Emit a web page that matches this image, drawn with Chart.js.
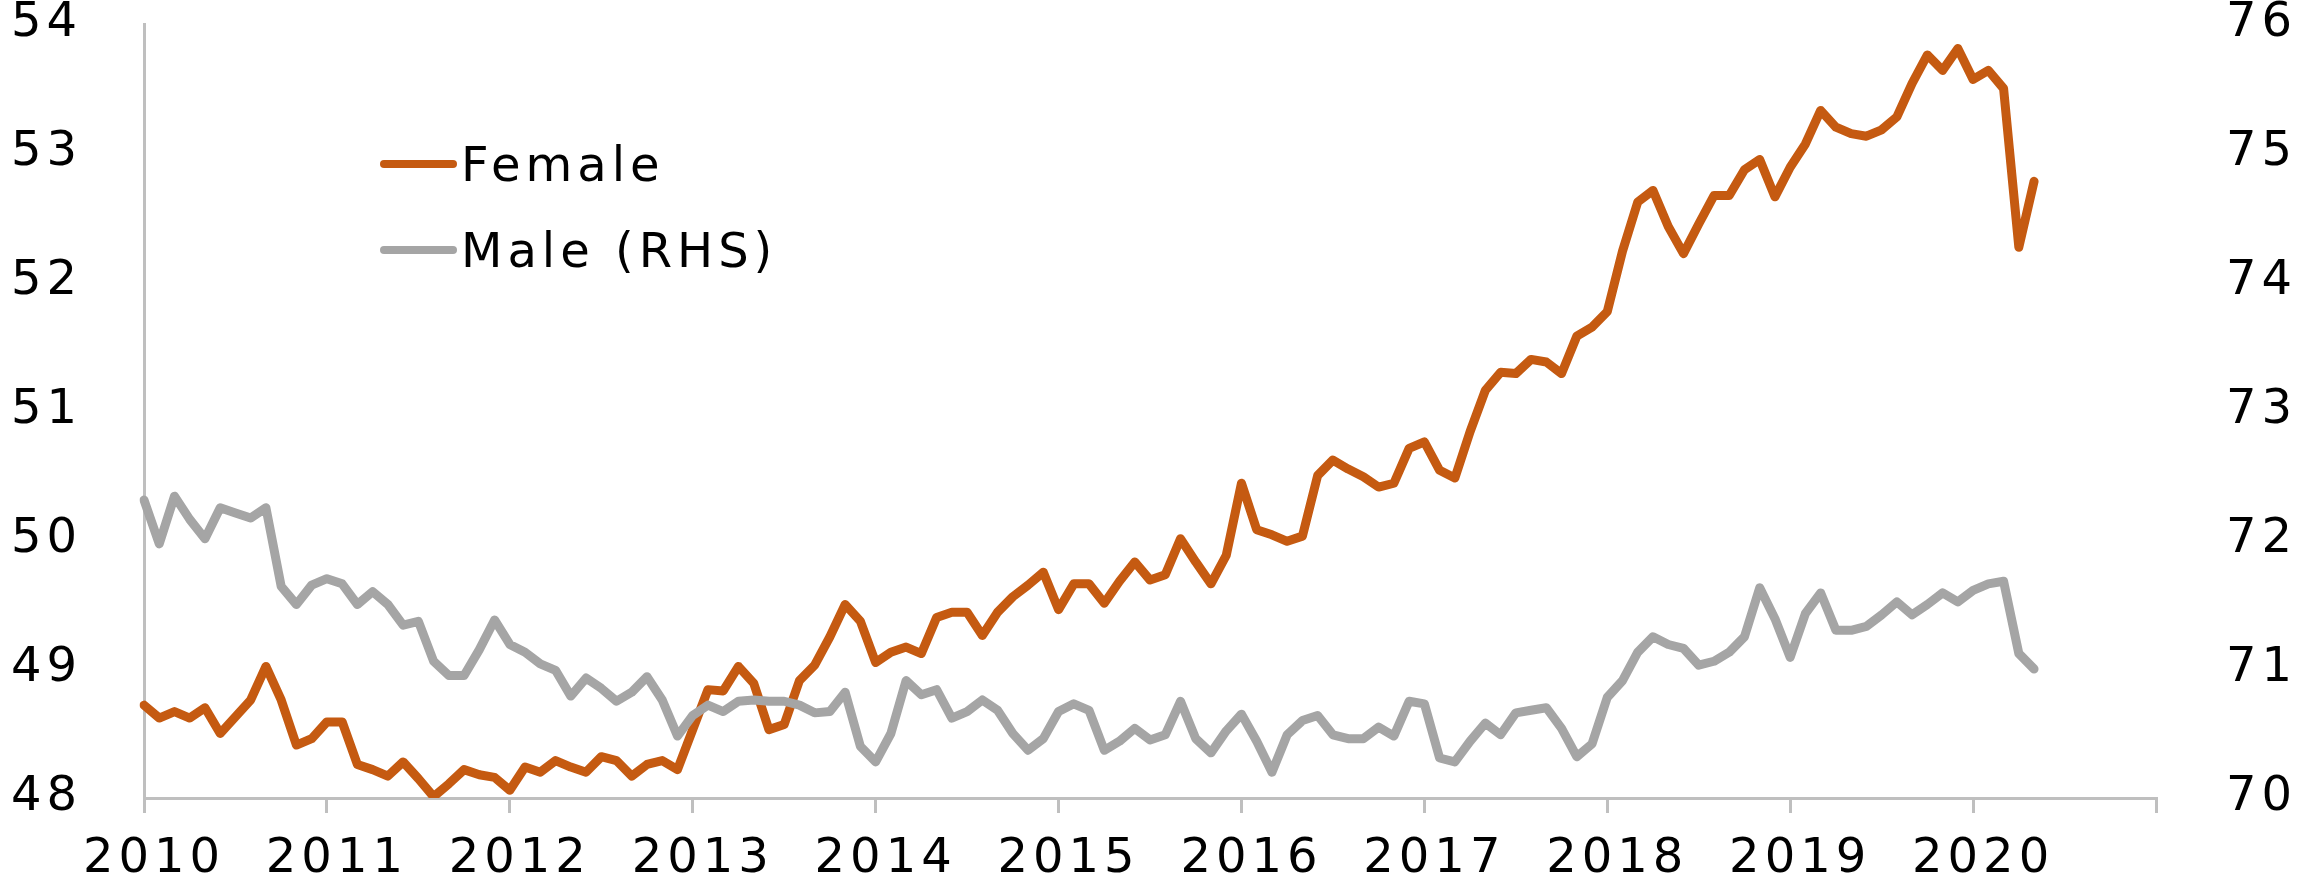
<!DOCTYPE html>
<html>
<head>
<meta charset="utf-8">
<script src="https://cdn.jsdelivr.net/npm/chart.js@4.4.1/dist/chart.umd.min.js"></script>
<style>
  html, body { margin: 0; padding: 0; background: #ffffff; }
  #wrap { width: 2297px; height: 881px; }
</style>
</head>
<body>
<div id="wrap"><canvas id="c" width="2297" height="881"></canvas></div>
<script>
// ---- data ----
const years = ['2010','2011','2012','2013','2014','2015','2016','2017','2018','2019','2020','2021'];
const seriesNames = ['Female', 'Male (RHS)'];
const female = [
  48.72, 48.62, 48.67, 48.62, 48.70, 48.50, 48.63, 48.76, 49.02, 48.76, 48.41, 48.46,
  48.59, 48.59, 48.26, 48.22, 48.17, 48.28, 48.15, 48.01, 48.11, 48.22, 48.18, 48.16,
  48.06, 48.24, 48.20, 48.29, 48.24, 48.20, 48.32, 48.29, 48.17, 48.26, 48.29, 48.22,
  48.53, 48.84, 48.83, 49.02, 48.89, 48.53, 48.57, 48.91, 49.03, 49.25, 49.50, 49.37,
  49.05, 49.13, 49.17, 49.12, 49.40, 49.44, 49.44, 49.26, 49.44, 49.56, 49.65, 49.75,
  49.46, 49.66, 49.66, 49.51, 49.68, 49.83, 49.69, 49.73, 50.01, 49.83, 49.66, 49.88,
  50.44, 50.08, 50.04, 49.99, 50.03, 50.50, 50.62, 50.55, 50.49, 50.41, 50.44, 50.71,
  50.76, 50.54, 50.48, 50.84, 51.16, 51.30, 51.29, 51.40, 51.38, 51.29, 51.58, 51.65,
  51.77, 52.24, 52.62, 52.71, 52.43, 52.22, 52.45, 52.67, 52.67, 52.87, 52.95, 52.66,
  52.89, 53.07, 53.33, 53.20, 53.15, 53.13, 53.18, 53.28, 53.54, 53.76, 53.64, 53.81,
  53.57, 53.64, 53.50, 52.27, 52.78
];
const male = [
  72.31, 71.97, 72.34, 72.16, 72.01, 72.25, 72.21, 72.17, 72.25, 71.64, 71.50, 71.65,
  71.70, 71.66, 71.50, 71.60, 71.50, 71.34, 71.37, 71.06, 70.95, 70.95, 71.15, 71.38,
  71.19, 71.13, 71.04, 70.99, 70.79, 70.93, 70.85, 70.75, 70.82, 70.94, 70.76, 70.48,
  70.64, 70.72, 70.67, 70.75, 70.76, 70.75, 70.75, 70.72, 70.66, 70.67, 70.82, 70.40,
  70.28, 70.50, 70.91, 70.80, 70.84, 70.62, 70.67, 70.76, 70.68, 70.50, 70.37, 70.46,
  70.67, 70.73, 70.68, 70.37, 70.44, 70.54, 70.45, 70.49, 70.75, 70.46, 70.35, 70.52,
  70.65, 70.44, 70.20, 70.49, 70.60, 70.64, 70.49, 70.46, 70.46, 70.55, 70.48, 70.75,
  70.73, 70.31, 70.28, 70.44, 70.58, 70.49, 70.66, 70.68, 70.70, 70.54, 70.32, 70.42,
  70.78, 70.91, 71.13, 71.25, 71.19, 71.16, 71.03, 71.06, 71.13, 71.25, 71.63, 71.39,
  71.09, 71.43, 71.59, 71.30, 71.30, 71.33, 71.42, 71.52, 71.42, 71.50, 71.59, 71.52,
  71.61, 71.66, 71.68, 71.12, 71.00
];
const leftRange = [48, 54];
const rightRange = [70, 76];

// monthly category labels built from the years list (Jan 2010 ... Jan 2021)
const monthLabels = [];
years.forEach((y, k) => {
  const months = (k === years.length - 1) ? 1 : 12;
  for (let m = 1; m <= months; m++) monthLabels.push(y + '-' + String(m).padStart(2, '0'));
});

// ---- styling ----
const FONT = { family: '"DejaVu Sans", sans-serif', size: 48, lineHeight: 1.2 };
const SPACING = '5px';
const AXIS = '#BFBFBF';
const ORANGE = '#C55A11';
const GREY = '#A5A5A5';

const spacingPlugin = {
  id: 'spacing',
  beforeUpdate(chart) { chart.ctx.letterSpacing = SPACING; },
  beforeLayout(chart) { chart.ctx.letterSpacing = SPACING; },
  beforeDraw(chart) { chart.ctx.letterSpacing = SPACING; }
};

const insideLegend = {
  id: 'insideLegend',
  afterDraw(chart) {
    const ctx = chart.ctx;
    ctx.save();
    chart.data.datasets.forEach((ds, k) => {
      const y = 164 + k * 86;
      ctx.strokeStyle = ds.borderColor;
      ctx.lineWidth = 8;
      ctx.lineCap = 'round';
      ctx.beginPath();
      ctx.moveTo(384, y);
      ctx.lineTo(453, y);
      ctx.stroke();
      ctx.fillStyle = '#000000';
      ctx.font = '48px "DejaVu Sans", sans-serif';
      ctx.letterSpacing = SPACING;
      ctx.textAlign = 'left';
      ctx.textBaseline = 'alphabetic';
      ctx.fillText(ds.label, 461, y + 17);
    });
    ctx.restore();
  }
};

const fixVertical = (s, width) => { s.width = width; s.paddingTop = 0; s.paddingBottom = 0; };

new Chart(document.getElementById('c'), {
  type: 'line',
  data: {
    labels: monthLabels,
    datasets: [
      { label: seriesNames[0], data: female, yAxisID: 'y', borderColor: ORANGE, backgroundColor: ORANGE,
        borderWidth: 9, pointRadius: 0, tension: 0, borderJoinStyle: 'round', borderCapStyle: 'round', order: 1 },
      { label: seriesNames[1], data: male, yAxisID: 'y1', borderColor: GREY, backgroundColor: GREY,
        borderWidth: 9, pointRadius: 0, tension: 0, borderJoinStyle: 'round', borderCapStyle: 'round', order: 0 }
    ]
  },
  options: {
    responsive: false,
    animation: false,
    devicePixelRatio: 1,
    layout: { padding: { top: 24, left: 0, right: 0, bottom: 0 } },
    plugins: { legend: { display: false }, tooltip: { enabled: false } },
    scales: {
      x: {
        type: 'category',
        offset: false,
        grid: {
          display: true, drawOnChartArea: false, drawTicks: true, tickLength: 15, lineWidth: 3,
          color: (c) => (c.index % 12 === 0 ? AXIS : 'rgba(0,0,0,0)')
        },
        border: { display: true, color: AXIS, width: 3 },
        ticks: {
          autoSkip: false, maxRotation: 0, minRotation: 0, padding: 18, labelOffset: 10,
          font: FONT, color: '#000000',
          callback: function (value, index) {
            if (index % 12 !== 0) return '';
            const lab = this.getLabelForValue(value).slice(0, 4);
            return lab === years[years.length - 1] ? '' : lab;
          }
        },
        afterFit: (s) => { s.height = 83; s.paddingLeft = 0; s.paddingRight = 0; }
      },
      y: {
        position: 'left',
        min: leftRange[0], max: leftRange[1],
        grid: { display: false, drawTicks: false },
        border: { display: true, color: AXIS, width: 3 },
        ticks: { stepSize: 1, padding: 62, font: FONT, color: '#000000' },
        afterFit: (s) => fixVertical(s, 144)
      },
      y1: {
        position: 'right',
        min: rightRange[0], max: rightRange[1],
        grid: { display: false, drawTicks: false },
        border: { display: false },
        ticks: { stepSize: 1, padding: 70, font: FONT, color: '#000000' },
        afterFit: (s) => fixVertical(s, 141)
      }
    }
  },
  plugins: [spacingPlugin, insideLegend]
});
</script>
</body>
</html>
